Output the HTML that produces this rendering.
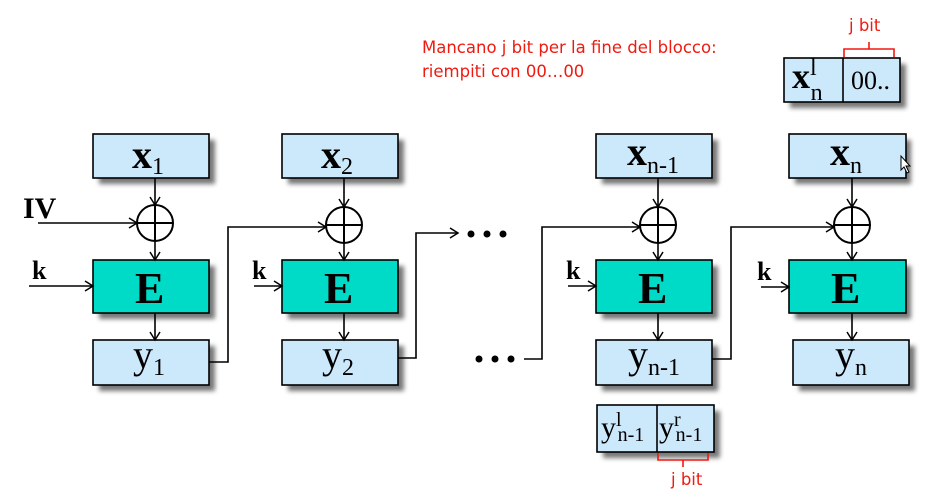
<!DOCTYPE html>
<html><head><meta charset="utf-8"><style>
html,body{margin:0;padding:0;background:#fff;}
svg{display:block;}
.t{font-family:"Liberation Serif",serif;fill:#000;}
.r{font-family:"Comic Sans MS","DejaVu Sans","Liberation Sans",sans-serif;fill:#f01a10;font-size:16.5px;}
</style></head><body>
<svg width="937" height="500" viewBox="0 0 937 500" xmlns="http://www.w3.org/2000/svg">
<defs>
<filter id="sh" x="-20%" y="-20%" width="150%" height="160%"><feGaussianBlur stdDeviation="2.5"/></filter>
<marker id="a" markerWidth="12" markerHeight="12" refX="10" refY="6" orient="auto" markerUnits="userSpaceOnUse"><path d="M2,1 L10,6 L2,11" fill="none" stroke="#000" stroke-width="1.5"/></marker>
</defs>
<g fill="#555" filter="url(#sh)" opacity="0.8">
<rect x="99" y="140" width="116" height="44"/><rect x="288" y="140" width="116" height="44"/><rect x="602" y="140" width="116" height="44"/><rect x="795" y="140" width="116" height="44"/>
<rect x="99" y="266" width="116" height="53"/><rect x="288" y="266" width="116" height="53"/><rect x="602" y="266" width="116" height="53"/><rect x="795" y="266" width="116" height="53"/>
<rect x="99" y="346" width="116" height="45"/><rect x="288" y="346" width="116" height="45"/><rect x="602" y="346" width="116" height="45"/><rect x="799" y="346" width="116" height="45"/>
<rect x="790" y="64" width="116" height="44"/><rect x="603" y="411" width="117" height="47"/>
</g>
<g stroke="#000" stroke-width="1.6">
<g fill="#cce8fb">
<rect x="93" y="134" width="116" height="44"/><rect x="282" y="134" width="116" height="44"/><rect x="596" y="134" width="116" height="44"/><rect x="789" y="134" width="117" height="44"/>
<rect x="93" y="340" width="116" height="45"/><rect x="282" y="340" width="116" height="45"/><rect x="596" y="340" width="116" height="45"/><rect x="793" y="340" width="116" height="45"/>
<rect x="784" y="58" width="116" height="44"/><rect x="597" y="405" width="117" height="47"/>
</g>
<line x1="843" y1="58" x2="843" y2="102"/><line x1="657" y1="405" x2="657" y2="452"/>
<g fill="#00dbc8">
<rect x="93" y="260" width="116" height="53"/><rect x="282" y="260" width="116" height="53"/><rect x="596" y="260" width="116" height="53"/><rect x="789" y="260" width="117" height="53"/>
</g>
<g fill="none" stroke-width="2">
<circle cx="155" cy="223" r="18"/><line x1="137" y1="223" x2="173" y2="223"/><line x1="155" y1="205" x2="155" y2="241"/>
<circle cx="344" cy="225" r="18"/><line x1="326" y1="225" x2="362" y2="225"/><line x1="344" y1="207" x2="344" y2="243"/>
<circle cx="658" cy="225" r="18"/><line x1="640" y1="225" x2="676" y2="225"/><line x1="658" y1="207" x2="658" y2="243"/>
<circle cx="852" cy="225" r="18"/><line x1="834" y1="225" x2="870" y2="225"/><line x1="852" y1="207" x2="852" y2="243"/>
</g>
<g fill="none" marker-end="url(#a)">
<line x1="155" y1="178" x2="155" y2="205"/><line x1="155" y1="241" x2="155" y2="260"/><line x1="155" y1="313" x2="155" y2="340"/>
<line x1="344" y1="178" x2="344" y2="207"/><line x1="344" y1="243" x2="344" y2="260"/><line x1="344" y1="313" x2="344" y2="340"/>
<line x1="658" y1="178" x2="658" y2="207"/><line x1="658" y1="243" x2="658" y2="260"/><line x1="658" y1="313" x2="658" y2="340"/>
<line x1="852" y1="178" x2="852" y2="207"/><line x1="852" y1="243" x2="852" y2="260"/><line x1="852" y1="313" x2="852" y2="340"/>
<line x1="38" y1="223" x2="137" y2="223"/>
<line x1="29" y1="286" x2="93" y2="286"/>
<line x1="254" y1="286" x2="282" y2="286"/>
<line x1="568" y1="286" x2="596" y2="286"/>
<line x1="761" y1="287" x2="789" y2="287"/>
<polyline points="209,362 228,362 228,227 326,227"/>
<polyline points="398,358 416,358 416,233 458,233"/>
<polyline points="524,359 542,359 542,227 640,227"/>
<polyline points="712,359 731,359 731,227 834,227"/>
</g>
</g>
<g fill="#000">
<circle cx="471" cy="234" r="3.5"/><circle cx="487" cy="234" r="3.5"/><circle cx="503" cy="234" r="3.5"/>
<circle cx="479" cy="359" r="3.5"/><circle cx="495" cy="359" r="3.5"/><circle cx="511" cy="359" r="3.5"/>
</g>
<g class="t" font-size="40">
<text x="132" y="168" font-weight="bold">x<tspan font-size="24" font-weight="normal" dy="6">1</tspan></text>
<text x="321" y="168" font-weight="bold">x<tspan font-size="24" font-weight="normal" dy="6">2</tspan></text>
<text x="627" y="165" font-weight="bold">x<tspan font-size="24" font-weight="normal" dy="8">n-1</tspan></text>
<text x="830" y="165" font-weight="bold">x<tspan font-size="24" font-weight="normal" dy="8">n</tspan></text>
<text x="133" y="368">y<tspan font-size="24" dy="7">1</tspan></text>
<text x="322" y="368">y<tspan font-size="24" dy="7">2</tspan></text>
<text x="628" y="368">y<tspan font-size="24" dy="7">n-1</tspan></text>
<text x="835" y="368">y<tspan font-size="24" dy="7">n</tspan></text>
<text x="135" y="303" font-weight="bold" font-size="44">E</text>
<text x="324" y="303" font-weight="bold" font-size="44">E</text>
<text x="638" y="303" font-weight="bold" font-size="44">E</text>
<text x="831" y="303" font-weight="bold" font-size="44">E</text>
<text x="23" y="218" font-weight="bold" font-size="30">IV</text>
<text x="32" y="279" font-weight="bold" font-size="26">k</text>
<text x="252" y="279" font-weight="bold" font-size="26">k</text>
<text x="566" y="279" font-weight="bold" font-size="26">k</text>
<text x="757" y="280" font-weight="bold" font-size="26">k</text>
<text x="792" y="88" font-weight="bold" font-size="36">x<tspan font-size="24" font-weight="normal" dy="-13">l</tspan><tspan font-size="24" font-weight="normal" dx="-6" dy="25">n</tspan></text>
<text x="851" y="89" font-size="26">00..</text>
<text x="601" y="437" font-size="30">y<tspan font-size="20" dy="-11">l</tspan><tspan font-size="20" dx="-4" dy="15">n-1</tspan></text>
<text x="659" y="437" font-size="30">y<tspan font-size="20" dy="-11">r</tspan><tspan font-size="20" dx="-5" dy="15">n-1</tspan></text>
</g>
<text class="r" x="422" y="53">Mancano j bit per la fine del blocco:</text>
<text class="r" x="422" y="77">riempiti con 00…00</text>
<text class="r" x="849" y="31">j bit</text>
<text class="r" x="671" y="485">j bit</text>
<g fill="none" stroke="#f01a10" stroke-width="1.6">
<path d="M844,57 L844,49 L894,49 L894,57 M869,49 L869,42"/>
<path d="M658,453 L658,460 L708,460 L708,453 M683,460 L683,467"/>
</g>
<path d="M901,156 L901,170 L904,167 L907,173 L909,172 L906,166 L910,166 Z" fill="#fff" stroke="#000" stroke-width="1"/>
</svg>
</body></html>
